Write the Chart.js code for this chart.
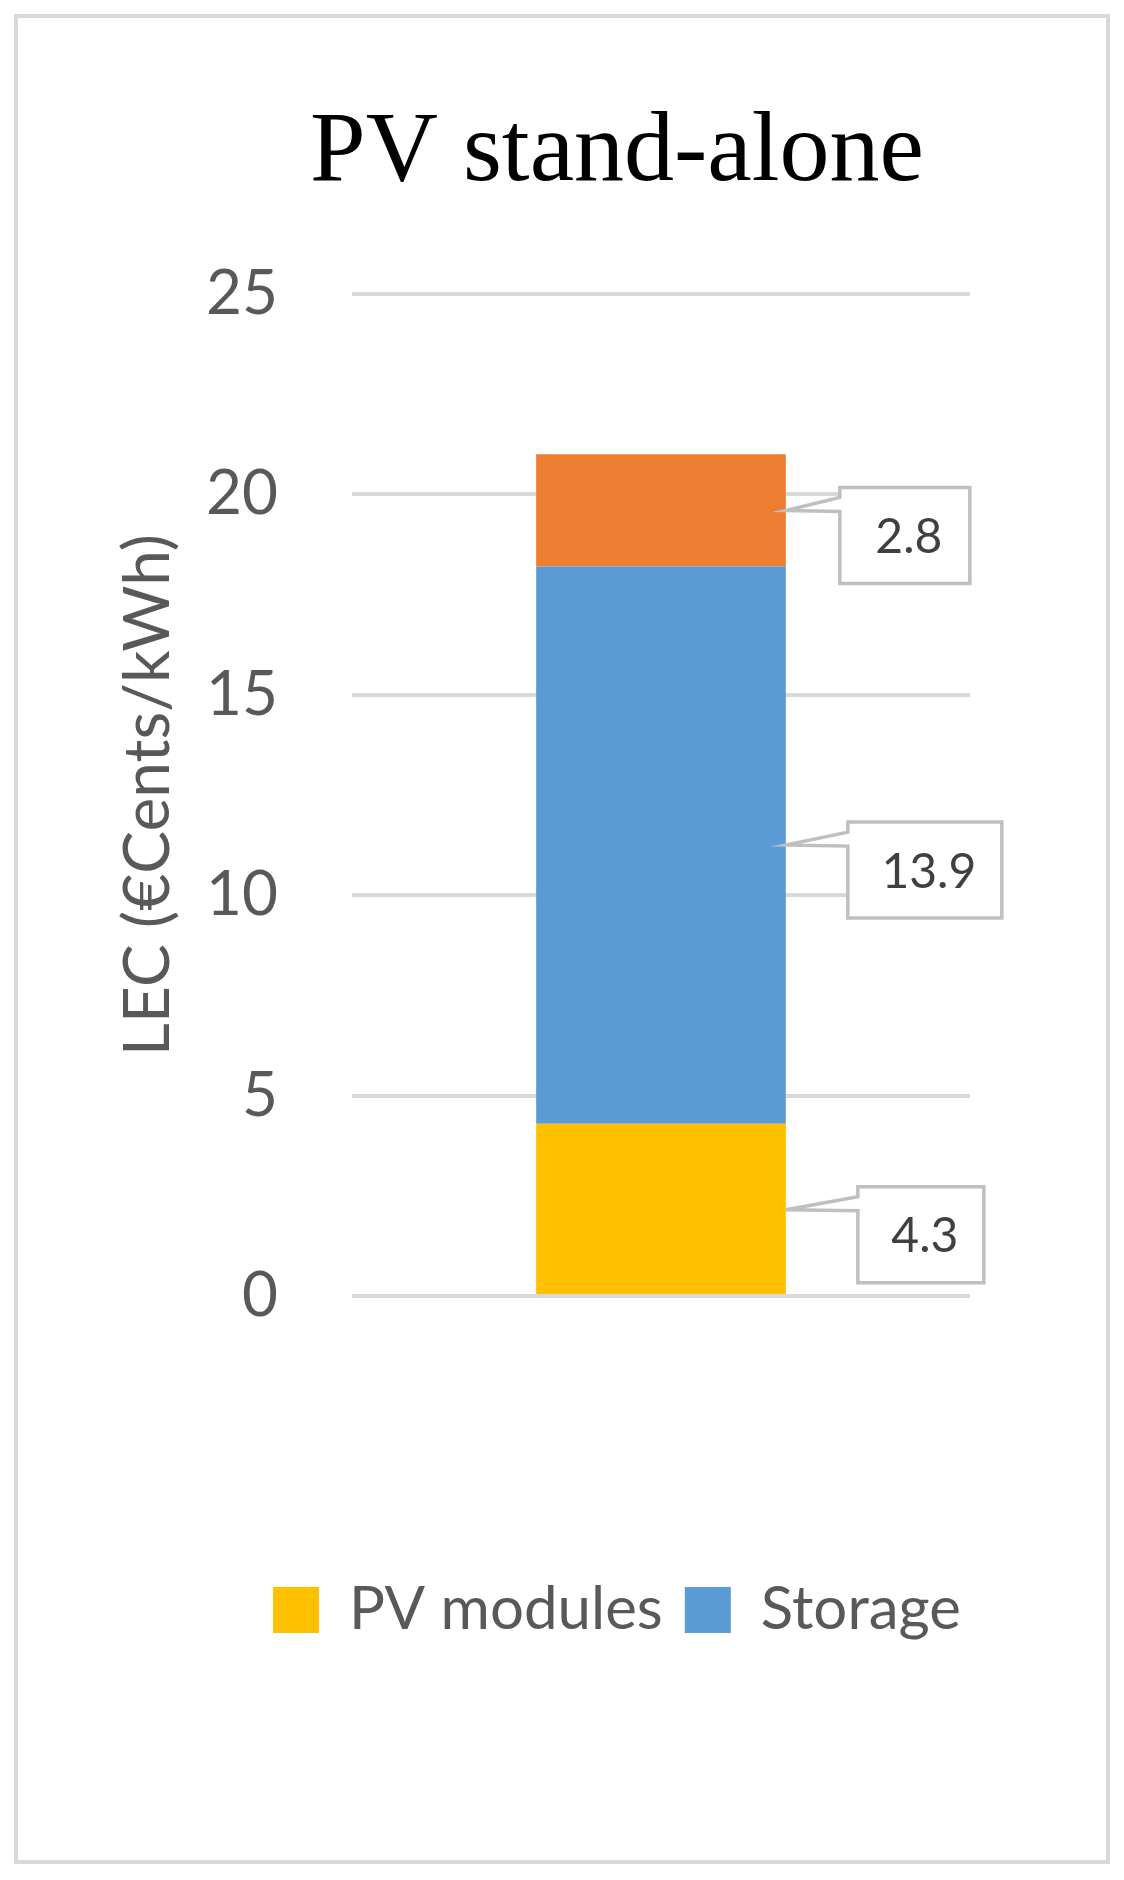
<!DOCTYPE html>
<html>
<head>
<meta charset="utf-8">
<script src="https://cdn.jsdelivr.net/npm/chart.js@4"></script>
<style>
  html, body { margin: 0; padding: 0; background: #fff; }
  #wrap { width: 1124px; height: 1880px; position: relative; }
</style>
</head>
<body>
<div id="wrap"><canvas id="lec"></canvas></div>
<script>
// data
const categories = ['PV stand-alone'];
const pvModules = [4.3];
const storage = [13.9];
const other = [2.8];
const seriesNames = ['PV modules', 'Storage', 'Other'];
const seriesColors = ['#FFC000', '#5B9BD5', '#ED7D31'];
const yTicks = [0, 5, 10, 15, 20, 25];

// frame around the whole figure
const framePlugin = {
    id: 'frame',
    beforeDraw(chart) {
        const ctx = chart.ctx;
        ctx.save();
        ctx.fillStyle = '#fff';
        ctx.fillRect(0, 0, chart.width, chart.height);
        ctx.strokeStyle = '#d9d9d9';
        ctx.lineWidth = 4;
        ctx.strokeRect(16, 16, chart.width - 32, chart.height - 34);
        ctx.restore();
    }
};

// callout boxes for the segment values
const calloutPlugin = {
    id: 'callouts',
    afterDatasetsDraw(chart) {
        const ctx = chart.ctx;
        const yScale = chart.scales.y;
        const offsets = [
            { dx: 72, w: 126 },
            { dx: 62, w: 154 },
            { dx: 54, w: 130 }
        ];
        ctx.save();
        chart.data.datasets.forEach((ds, i) => {
            const bar = chart.getDatasetMeta(i).data[0];
            const value = ds.data[0];
            let base = 0;
            for (let k = 0; k < i; k++) base += chart.data.datasets[k].data[0];
            const py = yScale.getPixelForValue(base + value / 2);
            const px = bar.x + bar.width / 2;
            const o = offsets[i];
            const bx = px + o.dx, by = py - 23, bw = o.w, bh = 96;
            ctx.beginPath();
            ctx.moveTo(bx, by);
            ctx.lineTo(bx + bw, by);
            ctx.lineTo(bx + bw, by + bh);
            ctx.lineTo(bx, by + bh);
            ctx.lineTo(bx, by + 24);
            ctx.lineTo(px, py);
            ctx.lineTo(bx, by + 10);
            ctx.closePath();
            ctx.fillStyle = '#fff';
            ctx.fill();
            ctx.strokeStyle = '#bfbfbf';
            ctx.lineWidth = 3.5;
            ctx.stroke();
            ctx.fillStyle = '#404040';
            ctx.font = '48px Lato';
            ctx.textAlign = 'center';
            ctx.textBaseline = 'middle';
            ctx.fillText(value.toFixed(1), bx + bw / 2 + 4, by + bh / 2 + 2);
        });
        ctx.restore();
    }
};

new Chart(document.getElementById('lec'), {
    type: 'bar',
    data: {
        labels: categories,
        datasets: [
            { label: seriesNames[0], data: pvModules, backgroundColor: seriesColors[0] },
            { label: seriesNames[1], data: storage, backgroundColor: seriesColors[1] },
            { label: seriesNames[2], data: other, backgroundColor: seriesColors[2] }
        ]
    },
    options: {
        responsive: true,
        maintainAspectRatio: false,
        animation: false,
        devicePixelRatio: 1,
        datasets: { bar: { barPercentage: 0.404, categoryPercentage: 1 } },
        layout: { padding: { left: 110, right: 0, top: 0, bottom: 230 } },
        scales: {
            x: {
                stacked: true,
                grid: { display: false },
                border: { display: false },
                ticks: { display: false },
                afterFit(scale) { scale.height = 262; }
            },
            y: {
                stacked: true,
                min: 0,
                max: 25,
                afterBuildTicks(scale) { scale.ticks = yTicks.map(v => ({ value: v })); },
                afterFit(scale) { scale.width = 242; },
                grid: { color: '#d9d9d9', lineWidth: 4, drawTicks: false },
                border: { display: false },
                ticks: { color: '#595959', font: { family: 'Lato', size: 62 }, padding: 74 },
                title: {
                    display: true,
                    text: 'LEC (€Cents/kWh)',
                    color: '#595959',
                    font: { family: 'Lato', size: 64 },
                    padding: 0
                }
            },
            yRight: {
                position: 'right',
                display: true,
                grid: { display: false },
                border: { display: false },
                ticks: { display: false },
                afterFit(scale) { scale.width = 154; }
            }
        },
        plugins: {
            title: {
                display: true,
                text: 'PV stand-alone',
                color: '#000',
                font: { family: 'Liberation Serif', size: 100, weight: 'normal' },
                padding: { top: 94, bottom: 80 }
            },
            legend: {
                position: 'bottom',
                labels: {
                    color: '#595959',
                    font: { family: 'Lato', size: 60 },
                    boxWidth: 46,
                    boxHeight: 46,
                    padding: 22,
                    filter: item => item.datasetIndex < 2
                }
            },
            tooltip: { enabled: false }
        }
    },
    plugins: [framePlugin, calloutPlugin]
});
</script>
</body>
</html>
